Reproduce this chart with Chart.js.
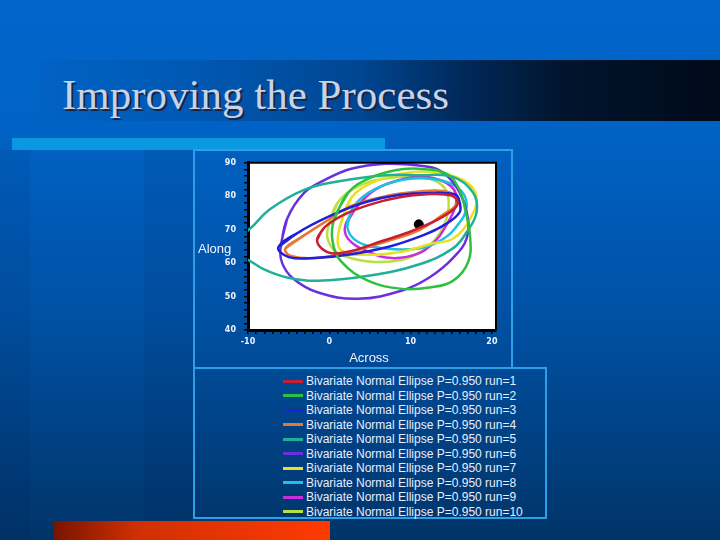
<!DOCTYPE html>
<html>
<head>
<meta charset="utf-8">
<script src="https://cdn.jsdelivr.net/npm/chart.js@4/dist/chart.umd.min.js"></script>
<style>
  html, body { margin: 0; padding: 0; }
  body {
    width: 720px; height: 540px; position: relative; overflow: hidden;
    background: linear-gradient(to bottom, #0066cc 0%, #0062c4 25%, #0050a2 60%, #003468 100%);
    font-family: "Liberation Sans", Arial, sans-serif;
  }
  .abs { position: absolute; }
  #stripL { left: 0; top: 150px; width: 30px; height: 390px; background: rgba(0, 10, 50, 0.07); }
  #stripM { left: 144px; top: 150px; width: 49px; height: 390px; background: rgba(0, 10, 50, 0.07); }
  #titleBar {
    left: 40px; top: 60px; width: 680px; height: 61px;
    background: linear-gradient(to right, #0062c4 0px, #0058b2 160px, #004692 320px, #002a5c 420px, #00152e 520px, #000a1a 680px);
  }
  #title {
    left: 62px; top: 73px; font-family: "Liberation Serif", "Times New Roman", serif;
    font-size: 43px; line-height: 43px; color: #c9d3e6; text-shadow: 2px 2px 0 #14264a; white-space: nowrap;
  }
  #topBar { left: 12px; top: 138px; width: 373px; height: 12px; background: #0a98e0; }
  #bottomBar { left: 54px; top: 521px; width: 276px; height: 19px;
    background: linear-gradient(to right, #7a1400 0%, #d03000 30%, #ff3a00 100%); }
  .frame { box-sizing: border-box; border: 2px solid #2d9ee8; }
  #chartFrame { left: 193px; top: 149px; width: 320px; height: 220px; }
  #legendFrame { left: 193px; top: 367px; width: 354px; height: 152px; }
  #chart { left: 193px; top: 150px; }
  #legend { left: 283px; top: 374px; }
  .row { height: 14.5px; display: flex; align-items: center; white-space: nowrap; }
  .sw { width: 20px; height: 3px; margin-right: 3px; }
  .lbl { font-size: 12px; color: #e8eeff; }
</style>
</head>
<body>
<div id="stripL" class="abs"></div>
<div id="stripM" class="abs"></div>
<div id="titleBar" class="abs"></div>
<div id="title" class="abs">Improving the Process</div>
<div id="topBar" class="abs"></div>
<div id="bottomBar" class="abs"></div>
<div id="chartFrame" class="abs frame"></div>
<div id="legendFrame" class="abs frame"></div>
<canvas id="chart" class="abs" width="320" height="218"></canvas>
<div id="legend" class="abs"></div>
<script>
// ellipse outlines, [Across, Along]
const run1 = [[-1.5, 67.0], [-0.6, 70.7], [1.9, 74.6], [5.0, 77.5], [8.5, 79.6], [12.0, 80.6], [15.0, 80.2], [15.8, 78.0],
  [15.0, 75.5], [12.5, 72.0], [9.5, 69.0], [6.5, 66.6], [3.0, 63.8], [0.5, 62.9], [-0.9, 64.3]];
const run2 = [[0.6, 73.2], [2.3, 81.0], [4.8, 85.3], [8.1, 87.8], [11.0, 88.2], [14.4, 86.8], [16.0, 81.9], [16.7, 76.1],
  [17.3, 68.3], [17.1, 60.5], [15.2, 54.7], [12.3, 52.7], [8.95, 52.3], [4.8, 54.7], [1.45, 60.5], [0.4, 66.5]];
const run3 = [[-6.25, 64.9], [-3.1, 70.2], [1.0, 75.1], [4.5, 78.3], [8.5, 80.4], [12.5, 81.0], [15.5, 80.5], [16.0, 78.5],
  [16.0, 75.1], [14.0, 71.2], [11.5, 68.3], [7.3, 64.9], [2.5, 62.6], [-1.5, 61.6], [-5.0, 61.8]];
const run4 = [[-5.4, 64.4], [-3.1, 68.3], [-0.6, 72.2], [2.7, 77.1], [6.9, 80.0], [11.0, 81.4], [14.0, 81.6], [15.6, 80.0],
  [15.6, 77.5], [14.0, 74.5], [11.0, 69.8], [6.9, 66.4], [2.7, 63.4], [-1.5, 61.5], [-4.8, 62.2]];
const run5 = [[-12.5, 65.5], [-9.8, 70.2], [-7.3, 76.1], [-3.1, 81.9], [1.0, 84.4], [6.9, 86.3], [11.0, 86.3], [15.2, 85.8],
  [17.7, 81.0], [18.1, 75.1], [16.9, 69.3], [15.2, 64.4], [11.0, 59.6], [4.8, 56.2], [-1.46, 54.7], [-5.2, 55.7],
  [-8.1, 58.2], [-10.0, 61.0], [-12.0, 63.0]];
const run6 = [[-6.0, 64.4], [-5.2, 73.2], [-3.1, 81.0], [-0.6, 84.8], [2.7, 88.2], [6.9, 89.7], [11.0, 89.2], [13.5, 87.8],
  [15.6, 82.9], [16.9, 75.1], [16.9, 67.5], [15.2, 61.5], [12.3, 55.7], [8.95, 51.8], [3.5, 49.35], [-1.46, 51.3],
  [-4.5, 55.5], [-5.8, 60.0]];
const run7 = [[1.2, 70.0], [2.7, 79.5], [5.6, 84.4], [9.0, 86.8], [12.3, 87.3], [16.45, 84.8], [18.1, 80.0], [17.3, 73.2],
  [15.2, 67.3], [12.7, 65.9], [8.95, 63.4], [4.8, 62.5], [1.45, 63.9]];
const run8 = [[2.2, 71.0], [2.9, 76.5], [4.8, 81.0], [8.1, 84.4], [11.9, 85.3], [15.6, 82.9], [16.9, 77.1], [15.4, 70.2],
  [13.5, 66.5], [11.0, 64.4], [6.9, 64.4], [3.5, 66.4]];
const run9 = [[2.0, 71.5], [3.5, 77.1], [5.6, 81.9], [8.5, 84.8], [11.9, 85.8], [15.0, 82.9], [15.6, 78.0], [14.2, 70.5],
  [13.0, 66.5], [11.0, 62.9], [7.7, 61.5], [4.8, 63.4], [2.3, 67.3]];
const run10 = [[-0.2, 70.2], [1.0, 78.0], [3.5, 82.9], [6.9, 85.3], [11.0, 85.8], [13.5, 84.0], [14.6, 80.0], [14.4, 73.2],
  [13.1, 67.3], [11.5, 63.8], [8.95, 61.0], [4.8, 60.5], [1.04, 63.0], [-0.1, 66.5]];
const meanPoint = [[11.0, 71.6]];

const runs = [run1, run2, run3, run4, run5, run6, run7, run8, run9, run10];
const runLabels = runs.map((r, i) => "Bivariate Normal Ellipse P=0.950 run=" + (i + 1));
const runColors = ["#c81e32", "#30c040", "#2020d8", "#e87830", "#20b09a", "#6a30e0", "#e8e020", "#20c0e0", "#c82ee0", "#b8e040"];

const xTickLabels = [-10, 0, 10, 20];
const yTickLabels = [40, 50, 60, 70, 80, 90];

function toPoints(arr) {
  return arr.map(p => ({ x: p[0], y: p[1] }));
}

const datasets = runs.map((r, i) => {
  const pts = toPoints(r);
  return {
    label: runLabels[i],
    data: pts.concat([pts[0], pts[1]]),
    showLine: true,
    tension: 0.4,
    borderColor: runColors[i],
    borderWidth: 2.5,
    pointRadius: 0,
    fill: false
  };
});
datasets.push({
  label: "mean",
  data: toPoints(meanPoint),
  showLine: false,
  pointRadius: 4.5,
  backgroundColor: "#000",
  borderColor: "#000"
});

const plotBox = {
  id: "plotBox",
  beforeDraw(chart) {
    const { ctx, chartArea: a } = chart;
    ctx.save();
    ctx.fillStyle = "#fff";
    ctx.fillRect(a.left, a.top, a.right - a.left, a.bottom - a.top);
    ctx.restore();
  },
  afterDraw(chart) {
    const { ctx, chartArea: a } = chart;
    ctx.save();
    ctx.strokeStyle = "#000";
    ctx.lineWidth = 2;
    ctx.beginPath();
    ctx.moveTo(a.left, a.top);
    ctx.lineTo(a.right, a.top);
    ctx.lineTo(a.right, a.bottom);
    ctx.stroke();
    ctx.fillStyle = "#eef3ff";
    ctx.font = "13px 'Liberation Sans', Arial, sans-serif";
    ctx.textBaseline = "middle";
    ctx.textAlign = "left";
    ctx.fillText("Along", 5, 99);
    ctx.textAlign = "center";
    ctx.fillText("Across", 176, 208);
    ctx.restore();
  }
};

const htmlLegend = {
  id: "htmlLegend",
  afterUpdate(chart) {
    const box = document.getElementById("legend");
    box.innerHTML = "";
    chart.data.datasets.slice(0, runs.length).forEach(ds => {
      const row = document.createElement("div");
      row.className = "row";
      row.innerHTML = `<span class="sw" style="background:${ds.borderColor}"></span><span class="lbl">${ds.label}</span>`;
      box.appendChild(row);
    });
  }
};

function minorTicks(from, to, step) {
  const t = [];
  for (let v = from; v <= to + 1e-9; v += step) t.push({ value: v });
  return t;
}

new Chart(document.getElementById("chart"), {
  type: "scatter",
  data: { datasets },
  options: {
    responsive: false,
    animation: false,
    devicePixelRatio: 1,
    layout: { padding: { left: 0, top: 8, right: 17, bottom: 0 } },
    plugins: { legend: { display: false }, tooltip: { enabled: false } },
    scales: {
      x: {
        type: "linear", min: -10, max: 20.5,
        afterBuildTicks: s => { s.ticks = minorTicks(-10, 20, 1); },
        afterFit: s => { s.height = 38; },
        ticks: {
          autoSkip: false, maxRotation: 0, padding: 3,
          color: "#f0f4ff", font: { size: 8, weight: "bold", family: "'DejaVu Sans', Arial" },
          callback: v => xTickLabels.includes(v) ? String(v) : ""
        },
        grid: { drawOnChartArea: false, color: "#000", tickLength: 4, lineWidth: 1.5 },
        border: { color: "#000", width: 3 }
      },
      y: {
        type: "linear", min: 40, max: 90,
        afterBuildTicks: s => { s.ticks = minorTicks(40, 90, 2); },
        afterFit: s => { s.width = 55; },
        ticks: {
          autoSkip: false, padding: 8,
          color: "#f0f4ff", font: { size: 8, weight: "bold", family: "'DejaVu Sans', Arial" },
          callback: v => yTickLabels.includes(v) ? String(v) : ""
        },
        grid: { drawOnChartArea: false, color: "#000", tickLength: 4, lineWidth: 1.5 },
        border: { color: "#000", width: 3 }
      }
    }
  },
  plugins: [plotBox, htmlLegend]
});
</script>
</body>
</html>
